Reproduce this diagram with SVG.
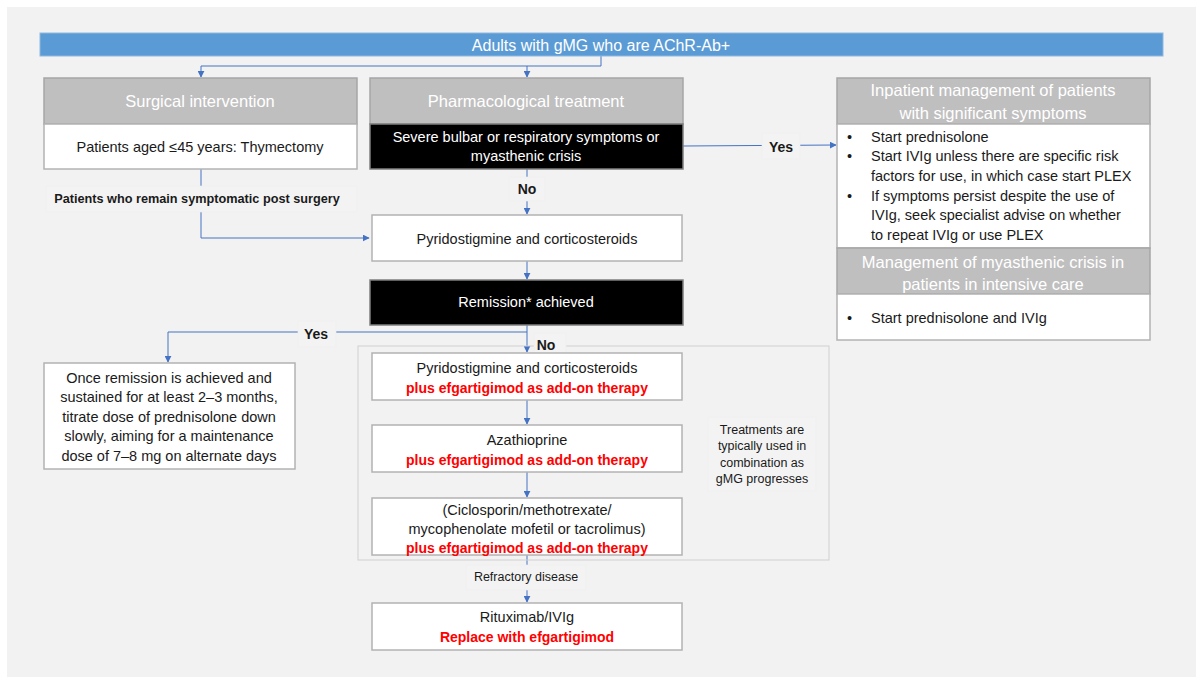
<svg xmlns="http://www.w3.org/2000/svg" width="1203" height="684" viewBox="0 0 1203 684">
<defs>
<marker id="arr" viewBox="0 0 10 10" refX="9" refY="5" markerWidth="7" markerHeight="7" markerUnits="userSpaceOnUse" orient="auto"><path d="M0,0 L10,5 L0,10 z" fill="#4472c4"/></marker>
<style>
text{font-family:"Liberation Sans",Arial,sans-serif;fill:#1a1a1a;dominant-baseline:central}
.hd{fill:#bfbfbf;stroke:#a6a6a6;stroke-width:1.5}
.hdt{fill:#ffffff;font-size:16.5px;text-anchor:middle}
.wb{fill:#ffffff;stroke:#b3b3b3;stroke-width:1.5}
.bb{fill:#000000;stroke:#7f7f7f;stroke-width:1.5}
.t{font-size:14.5px;text-anchor:middle}
.tl{font-size:14.5px}
.w{fill:#ffffff}
.red{fill:#ff0000;font-weight:bold;font-size:14px;text-anchor:middle}
.lb{font-weight:bold;font-size:14px;text-anchor:middle}
.lbg{fill:#f3f3f3;stroke:#efefef;stroke-width:0.6}
.con{fill:none;stroke:#4472c4;stroke-width:1}
.sm{font-size:12.5px;text-anchor:middle}
</style>
</defs>
<rect x="0" y="0" width="1203" height="684" fill="#ffffff"/>
<rect x="7" y="7" width="1189" height="670" fill="#f2f2f2"/>

<g id="connectors">
<path class="con" d="M601,56 V66 H201 V77" marker-end="url(#arr)"/>
<path class="con" d="M527,66 V77" marker-end="url(#arr)"/>
<path class="con" d="M201,169 V238 H369" marker-end="url(#arr)"/>
<path class="con" d="M527,169 V214" marker-end="url(#arr)"/>
<path class="con" d="M683,146 L836,145" marker-end="url(#arr)"/>
<path class="con" d="M527,261 V279" marker-end="url(#arr)"/>
<path class="con" d="M527,325 V332 H168 V362" marker-end="url(#arr)"/>
<path class="con" d="M527,332 V352" marker-end="url(#arr)"/>
<path class="con" d="M527,400 V424" marker-end="url(#arr)"/>
<path class="con" d="M527,472 V497" marker-end="url(#arr)"/>
<path class="con" d="M527,555 V602" marker-end="url(#arr)"/>
</g>

<g id="container">
<rect x="358" y="346" width="471" height="214" fill="none" stroke="#d0d0d0" stroke-width="1"/>
</g>

<g id="labels">
<rect class="lbg" x="46" y="186" width="311" height="26"/>
<text x="197" y="199" style="font-weight:bold;font-size:12.7px" text-anchor="middle">Patients who remain symptomatic post surgery</text>
<rect class="lbg" x="509" y="177" width="36" height="24"/>
<text class="lb" x="527" y="189">No</text>
<rect class="lbg" x="762" y="133" width="38" height="26"/>
<text class="lb" x="781" y="147">Yes</text>
<rect class="lbg" x="298" y="321" width="38" height="26"/>
<text class="lb" x="316" y="334">Yes</text>
<rect class="lbg" x="534" y="333" width="32" height="24"/>
<text class="lb" x="546" y="345">No</text>
<rect class="lbg" x="466" y="565" width="120" height="25"/>
<text class="sm" x="526" y="577">Refractory disease</text>
<rect class="lbg" x="708" y="417" width="108" height="74"/>
<text class="sm" x="762" y="430">Treatments are</text>
<text class="sm" x="762" y="446">typically used in</text>
<text class="sm" x="762" y="463">combination as</text>
<text class="sm" x="762" y="479">gMG progresses</text>
</g>

<g id="top">
<rect x="40" y="33" width="1123" height="23" fill="#5b9bd5" stroke="#8fb8e0" stroke-width="1"/>
<text x="601" y="45" style="fill:#fff;font-size:16px" text-anchor="middle">Adults with gMG who are AChR-Ab+</text>
</g>

<g id="surgical">
<rect class="hd" x="44" y="78" width="313" height="46"/>
<text class="hdt" x="200" y="101">Surgical intervention</text>
<rect class="wb" x="44" y="124" width="313" height="45"/>
<text class="t" x="200" y="147">Patients aged ≤45 years: Thymectomy</text>
</g>

<g id="pharma">
<rect class="hd" x="370" y="78" width="313" height="46"/>
<text class="hdt" x="526" y="101">Pharmacological treatment</text>
<rect class="bb" x="370" y="124" width="313" height="45"/>
<text class="t w" x="526" y="137">Severe bulbar or respiratory symptoms or</text>
<text class="t w" x="526" y="156">myasthenic crisis</text>
</g>

<g id="pyrido">
<rect class="wb" x="372" y="215" width="310" height="46"/>
<text class="t" x="527" y="239">Pyridostigmine and corticosteroids</text>
</g>

<g id="remission">
<rect class="bb" x="370" y="280" width="313" height="45"/>
<text class="t w" x="526" y="302">Remission* achieved</text>
</g>

<g id="maintenance">
<rect class="wb" x="44" y="363" width="251" height="106"/>
<text class="t" x="169" y="378">Once remission is achieved and</text>
<text class="t" x="169" y="397">sustained for at least 2–3 months,</text>
<text class="t" x="169" y="417">titrate dose of prednisolone down</text>
<text class="t" x="169" y="436">slowly, aiming for a maintenance</text>
<text class="t" x="169" y="456">dose of 7–8 mg on alternate days</text>
</g>

<g id="step1">
<rect class="wb" x="372" y="353" width="310" height="47"/>
<text class="t" x="527" y="368">Pyridostigmine and corticosteroids</text>
<text class="red" x="527" y="388">plus efgartigimod as add-on therapy</text>
</g>

<g id="step2">
<rect class="wb" x="372" y="425" width="310" height="47"/>
<text class="t" x="527" y="440">Azathioprine</text>
<text class="red" x="527" y="460">plus efgartigimod as add-on therapy</text>
</g>

<g id="step3">
<rect class="wb" x="372" y="498" width="310" height="57"/>
<text class="t" x="527" y="510">(Ciclosporin/methotrexate/</text>
<text class="t" x="527" y="529">mycophenolate mofetil or tacrolimus)</text>
<text class="red" x="527" y="548">plus efgartigimod as add-on therapy</text>
</g>

<g id="step4">
<rect class="wb" x="372" y="603" width="310" height="47"/>
<text class="t" x="527" y="617">Rituximab/IVIg</text>
<text class="red" x="527" y="637">Replace with efgartigimod</text>
</g>

<g id="inpatient">
<rect class="hd" x="837" y="78" width="313" height="46"/>
<text class="hdt" x="993" y="90">Inpatient management of patients</text>
<text class="hdt" x="993" y="113">with significant symptoms</text>
<rect class="wb" x="837" y="124" width="313" height="124"/>
<text class="tl" x="847" y="137">•</text><text class="tl" x="871" y="137">Start prednisolone</text>
<text class="tl" x="847" y="156">•</text><text class="tl" x="871" y="156">Start IVIg unless there are specific risk</text>
<text class="tl" x="871" y="176">factors for use, in which case start PLEX</text>
<text class="tl" x="847" y="196">•</text><text class="tl" x="871" y="196">If symptoms persist despite the use of</text>
<text class="tl" x="871" y="215">IVIg, seek specialist advise on whether</text>
<text class="tl" x="871" y="235">to repeat IVIg or use PLEX</text>
</g>

<g id="icu">
<rect class="hd" x="837" y="248" width="313" height="46"/>
<text class="hdt" x="993" y="262">Management of myasthenic crisis in</text>
<text class="hdt" x="993" y="284">patients in intensive care</text>
<rect class="wb" x="837" y="294" width="313" height="46"/>
<text class="tl" x="847" y="318">•</text><text class="tl" x="871" y="318">Start prednisolone and IVIg</text>
</g>
</svg>
